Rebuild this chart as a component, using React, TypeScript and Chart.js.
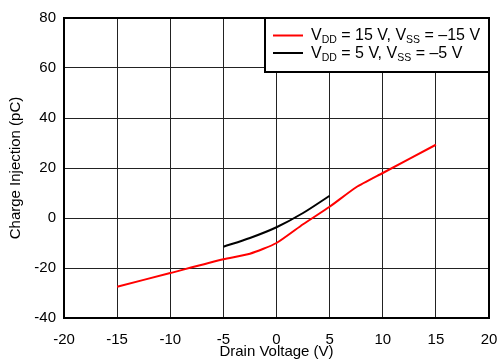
import React, { useEffect, useRef } from "react";
import { Chart, registerables } from "chart.js";

Chart.register(...registerables);

const redX = [-15, -10, -5, -2.5, 0, 2.5, 5, 7.5, 10, 15];
const redY = [-27.5, -22, -16.5, -14.3, -10, -2.5, 4.5, 12.3, 18, 29.3];
const blackX = [-5, -2.5, 0, 2.5, 5];
const blackY = [-11.5, -8, -3.7, 2, 8.9];

const legendRed = [["V", false], ["DD", true], [" = 15 V, V", false], ["SS", true], [" = \u201315 V", false]] as [string, boolean][];
const legendBlack = [["V", false], ["DD", true], [" = 5 V, V", false], ["SS", true], [" = \u20135 V", false]] as [string, boolean][];

const xTitle = "Drain Voltage (V)";
const yTitle = "Charge Injection (pC)";
const FONT = "Arial, 'Liberation Sans', sans-serif";

export default function App() {
  const ref = useRef<HTMLCanvasElement | null>(null);
  useEffect(() => {
    if (!ref.current) return;
    const framePlugin = {
      id: "frame",
      afterDraw(chart: any) {
        const { ctx, chartArea: a } = chart;
        ctx.save();
        ctx.strokeStyle = "#000";
        ctx.lineWidth = 2;
        ctx.strokeRect(a.left, a.top, a.right - a.left, a.bottom - a.top);
        // legend box
        const bx = 265, by = 18, bw = a.right - 265, bh = 54;
        ctx.fillStyle = "#fff";
        ctx.fillRect(bx, by, bw, bh);
        ctx.strokeRect(bx, by, bw, bh);
        const rows: [string, [string, boolean][], number][] = [
          ["#ff0000", legendRed, 35.5],
          ["#000000", legendBlack, 53],
        ];
        for (const [color, parts, y] of rows) {
          ctx.strokeStyle = color;
          ctx.lineWidth = 2;
          ctx.beginPath();
          ctx.moveTo(273, y);
          ctx.lineTo(303, y);
          ctx.stroke();
          let x = 311;
          ctx.fillStyle = "#000";
          ctx.textBaseline = "middle";
          ctx.textAlign = "left";
          for (const [t, sub] of parts) {
            ctx.font = sub ? `10.5px ${FONT}` : `16px ${FONT}`;
            ctx.fillText(t, x, sub ? y + 5 : y + 0.5);
            x += ctx.measureText(t).width;
          }
        }
        ctx.restore();
      },
    };
    const chart = new Chart(ref.current, {
      type: "line",
      data: {
        datasets: [
          {
            data: redX.map((x, i) => ({ x, y: redY[i] })),
            borderColor: "#ff0000",
            borderWidth: 2,
            pointRadius: 0,
            tension: 0.2,
          },
          {
            data: blackX.map((x, i) => ({ x, y: blackY[i] })),
            borderColor: "#000000",
            borderWidth: 2,
            pointRadius: 0,
            tension: 0.3,
          },
        ],
      },
      options: {
        animation: false,
        responsive: false,
        devicePixelRatio: 1,
        layout: { padding: { top: 18, right: 8, left: 0, bottom: 0 } },
        plugins: { legend: { display: false }, tooltip: { enabled: false } },
        scales: {
          x: {
            type: "linear",
            min: -20,
            max: 20,
            ticks: { stepSize: 5, color: "#000", font: { size: 15, family: FONT }, padding: 13 },
            grid: { color: "#222", lineWidth: 1, drawTicks: false },
            border: { display: false },
            title: { display: true, text: xTitle, color: "#000", font: { size: 15, family: FONT }, padding: { top: 0, bottom: 1 } },
            afterFit(scale: any) { scale.height = 44; scale.paddingLeft = 0; scale.paddingRight = 0; },
          },
          y: {
            min: -40,
            max: 80,
            ticks: { stepSize: 20, color: "#000", font: { size: 15, family: FONT }, padding: 8 },
            grid: { color: "#222", lineWidth: 1, drawTicks: false },
            border: { display: false },
            title: { display: true, text: yTitle, color: "#000", font: { size: 15, family: FONT }, padding: { top: 7, bottom: 0 } },
            afterFit(scale: any) { scale.width = 64; scale.paddingTop = 0; scale.paddingBottom = 0; },
          },
        },
      },
      plugins: [framePlugin],
    } as any);
    return () => chart.destroy();
  }, []);
  return (
    <canvas
      ref={ref}
      width={497}
      height={362}
      style={{ position: "fixed", left: 0, top: 0, width: 497, height: 362, background: "#fff" }}
    />
  );
}
